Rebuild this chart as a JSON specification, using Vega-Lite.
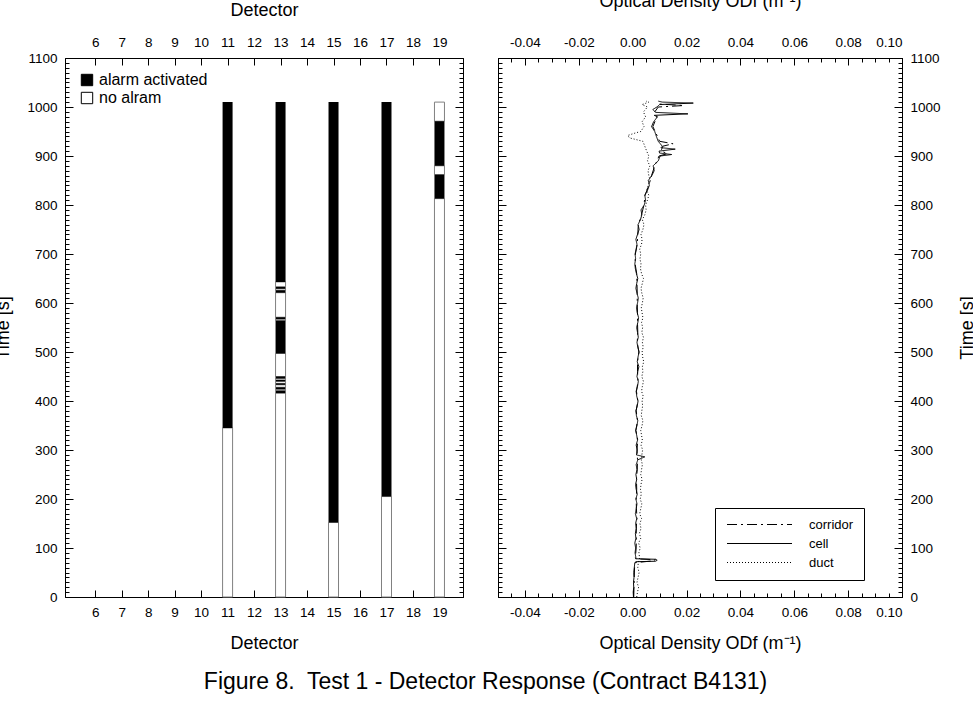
{
  "$schema": "https://vega.github.io/schema/vega-lite/v6.json",
  "background": "white",
  "padding": {"left": -6, "top": -8, "right": 0, "bottom": 0},
  "config": {
    "font": "Liberation Sans",
    "view": {"stroke": null},
    "axis": {"grid": false, "domainColor": "black", "tickColor": "black", "labelColor": "black", "titleColor": "black", "labelFont": "Liberation Sans", "titleFont": "Liberation Sans", "labelFontSize": 13.5, "titleFontSize": 18, "titleFontWeight": "normal", "domainWidth": 1, "tickWidth": 1, "labelOverlap": false},
    "legend": {"labelFont": "Liberation Sans", "labelColor": "black"},
    "concat": {"spacing": 33}
  },
  "title": {"text": "Figure 8.\u00a0 Test 1 - Detector Response (Contract B4131)", "orient": "bottom", "anchor": "middle", "fontSize": 23, "fontWeight": "normal", "font": "Liberation Sans", "color": "black", "offset": 18},
  "datasets": {
    "alarms": [
      {"detector": 11, "start": 0, "end": 345, "state": "no alram"},
      {"detector": 13, "start": 0, "end": 416, "state": "no alram"},
      {"detector": 13, "start": 421, "end": 424, "state": "no alram"},
      {"detector": 13, "start": 428, "end": 433, "state": "no alram"},
      {"detector": 13, "start": 436, "end": 440, "state": "no alram"},
      {"detector": 13, "start": 443, "end": 446, "state": "no alram"},
      {"detector": 13, "start": 450, "end": 497, "state": "no alram"},
      {"detector": 13, "start": 564, "end": 567, "state": "no alram"},
      {"detector": 13, "start": 571, "end": 621, "state": "no alram"},
      {"detector": 13, "start": 626, "end": 629, "state": "no alram"},
      {"detector": 13, "start": 633, "end": 643, "state": "no alram"},
      {"detector": 15, "start": 0, "end": 152, "state": "no alram"},
      {"detector": 17, "start": 0, "end": 205, "state": "no alram"},
      {"detector": 19, "start": 0, "end": 813, "state": "no alram"},
      {"detector": 19, "start": 862, "end": 880, "state": "no alram"},
      {"detector": 19, "start": 971, "end": 1010, "state": "no alram"},
      {"detector": 11, "start": 345, "end": 1010, "state": "alarm activated"},
      {"detector": 13, "start": 416, "end": 421, "state": "alarm activated"},
      {"detector": 13, "start": 424, "end": 428, "state": "alarm activated"},
      {"detector": 13, "start": 433, "end": 436, "state": "alarm activated"},
      {"detector": 13, "start": 440, "end": 443, "state": "alarm activated"},
      {"detector": 13, "start": 446, "end": 450, "state": "alarm activated"},
      {"detector": 13, "start": 497, "end": 564, "state": "alarm activated"},
      {"detector": 13, "start": 567, "end": 571, "state": "alarm activated"},
      {"detector": 13, "start": 621, "end": 626, "state": "alarm activated"},
      {"detector": 13, "start": 629, "end": 633, "state": "alarm activated"},
      {"detector": 13, "start": 643, "end": 1010, "state": "alarm activated"},
      {"detector": 15, "start": 152, "end": 1010, "state": "alarm activated"},
      {"detector": 17, "start": 205, "end": 1010, "state": "alarm activated"},
      {"detector": 19, "start": 813, "end": 862, "state": "alarm activated"},
      {"detector": 19, "start": 880, "end": 971, "state": "alarm activated"}
    ],
    "od": [
      {"series": "cell", "t": 0, "od": 0.0003}, {"series": "cell", "t": 10, "od": 0.0002}, {"series": "cell", "t": 20, "od": 0.0004}, {"series": "cell", "t": 30, "od": 0.0003}, {"series": "cell", "t": 40, "od": 0.0005}, {"series": "cell", "t": 50, "od": 0.0004}, {"series": "cell", "t": 60, "od": 0.0006}, {"series": "cell", "t": 70, "od": 0.0008}, {"series": "cell", "t": 72, "od": 0.0012}, {"series": "cell", "t": 73, "od": 0.0085}, {"series": "cell", "t": 75, "od": 0.0091}, {"series": "cell", "t": 77, "od": 0.0086}, {"series": "cell", "t": 78, "od": 0.0013}, {"series": "cell", "t": 80, "od": 0.0012}, {"series": "cell", "t": 90, "od": 0.0009}, {"series": "cell", "t": 100, "od": 0.0011}, {"series": "cell", "t": 110, "od": 0.0008}, {"series": "cell", "t": 120, "od": 0.0012}, {"series": "cell", "t": 130, "od": 0.0010}, {"series": "cell", "t": 140, "od": 0.0014}, {"series": "cell", "t": 150, "od": 0.0011}, {"series": "cell", "t": 160, "od": 0.0015}, {"series": "cell", "t": 170, "od": 0.0010}, {"series": "cell", "t": 180, "od": 0.0013}, {"series": "cell", "t": 190, "od": 0.0016}, {"series": "cell", "t": 200, "od": 0.0012}, {"series": "cell", "t": 210, "od": 0.0017}, {"series": "cell", "t": 220, "od": 0.0013}, {"series": "cell", "t": 230, "od": 0.0011}, {"series": "cell", "t": 240, "od": 0.0015}, {"series": "cell", "t": 250, "od": 0.0012}, {"series": "cell", "t": 260, "od": 0.0016}, {"series": "cell", "t": 270, "od": 0.0013}, {"series": "cell", "t": 280, "od": 0.0019}, {"series": "cell", "t": 286, "od": 0.0045}, {"series": "cell", "t": 290, "od": 0.0014}, {"series": "cell", "t": 300, "od": 0.0017}, {"series": "cell", "t": 310, "od": 0.0013}, {"series": "cell", "t": 320, "od": 0.0018}, {"series": "cell", "t": 330, "od": 0.0015}, {"series": "cell", "t": 340, "od": 0.0011}, {"series": "cell", "t": 350, "od": 0.0016}, {"series": "cell", "t": 360, "od": 0.0019}, {"series": "cell", "t": 370, "od": 0.0014}, {"series": "cell", "t": 380, "od": 0.0012}, {"series": "cell", "t": 390, "od": 0.0017}, {"series": "cell", "t": 400, "od": 0.0020}, {"series": "cell", "t": 410, "od": 0.0015}, {"series": "cell", "t": 420, "od": 0.0013}, {"series": "cell", "t": 430, "od": 0.0018}, {"series": "cell", "t": 440, "od": 0.0021}, {"series": "cell", "t": 450, "od": 0.0016}, {"series": "cell", "t": 460, "od": 0.0019}, {"series": "cell", "t": 470, "od": 0.0023}, {"series": "cell", "t": 480, "od": 0.0017}, {"series": "cell", "t": 490, "od": 0.0020}, {"series": "cell", "t": 500, "od": 0.0024}, {"series": "cell", "t": 510, "od": 0.0019}, {"series": "cell", "t": 520, "od": 0.0016}, {"series": "cell", "t": 530, "od": 0.0021}, {"series": "cell", "t": 540, "od": 0.0018}, {"series": "cell", "t": 550, "od": 0.0015}, {"series": "cell", "t": 560, "od": 0.0019}, {"series": "cell", "t": 570, "od": 0.0022}, {"series": "cell", "t": 580, "od": 0.0017}, {"series": "cell", "t": 590, "od": 0.0014}, {"series": "cell", "t": 600, "od": 0.0018}, {"series": "cell", "t": 610, "od": 0.0021}, {"series": "cell", "t": 620, "od": 0.0016}, {"series": "cell", "t": 630, "od": 0.0012}, {"series": "cell", "t": 640, "od": 0.0015}, {"series": "cell", "t": 650, "od": 0.0019}, {"series": "cell", "t": 660, "od": 0.0014}, {"series": "cell", "t": 670, "od": 0.0010}, {"series": "cell", "t": 680, "od": 0.0008}, {"series": "cell", "t": 690, "od": 0.0011}, {"series": "cell", "t": 700, "od": 0.0009}, {"series": "cell", "t": 710, "od": 0.0013}, {"series": "cell", "t": 720, "od": 0.0016}, {"series": "cell", "t": 730, "od": 0.0012}, {"series": "cell", "t": 740, "od": 0.0018}, {"series": "cell", "t": 750, "od": 0.0024}, {"series": "cell", "t": 760, "od": 0.0020}, {"series": "cell", "t": 770, "od": 0.0029}, {"series": "cell", "t": 780, "od": 0.0034}, {"series": "cell", "t": 790, "od": 0.0031}, {"series": "cell", "t": 800, "od": 0.0043}, {"series": "cell", "t": 810, "od": 0.0048}, {"series": "cell", "t": 820, "od": 0.0045}, {"series": "cell", "t": 830, "od": 0.0055}, {"series": "cell", "t": 840, "od": 0.0062}, {"series": "cell", "t": 850, "od": 0.0058}, {"series": "cell", "t": 860, "od": 0.0071}, {"series": "cell", "t": 870, "od": 0.0080}, {"series": "cell", "t": 880, "od": 0.0076}, {"series": "cell", "t": 890, "od": 0.0095}, {"series": "cell", "t": 900, "od": 0.0102}, {"series": "cell", "t": 903, "od": 0.0145}, {"series": "cell", "t": 906, "od": 0.0100}, {"series": "cell", "t": 910, "od": 0.0098}, {"series": "cell", "t": 914, "od": 0.0158}, {"series": "cell", "t": 917, "od": 0.0105}, {"series": "cell", "t": 920, "od": 0.0110}, {"series": "cell", "t": 930, "od": 0.0095}, {"series": "cell", "t": 940, "od": 0.0088}, {"series": "cell", "t": 950, "od": 0.0082}, {"series": "cell", "t": 960, "od": 0.0070}, {"series": "cell", "t": 970, "od": 0.0078}, {"series": "cell", "t": 980, "od": 0.0092}, {"series": "cell", "t": 983, "od": 0.0080}, {"series": "cell", "t": 986, "od": 0.0205}, {"series": "cell", "t": 989, "od": 0.0085}, {"series": "cell", "t": 995, "od": 0.0075}, {"series": "cell", "t": 1000, "od": 0.0090}, {"series": "cell", "t": 1005, "od": 0.0100}, {"series": "cell", "t": 1008, "od": 0.0225}, {"series": "cell", "t": 1010, "od": 0.0110}, {"series": "cell", "t": 1012, "od": 0.0095},
      {"series": "duct", "t": 0, "od": 0.0015}, {"series": "duct", "t": 10, "od": 0.0018}, {"series": "duct", "t": 20, "od": 0.0022}, {"series": "duct", "t": 30, "od": 0.0016}, {"series": "duct", "t": 40, "od": 0.0020}, {"series": "duct", "t": 50, "od": 0.0024}, {"series": "duct", "t": 60, "od": 0.0019}, {"series": "duct", "t": 70, "od": 0.0021}, {"series": "duct", "t": 80, "od": 0.0026}, {"series": "duct", "t": 90, "od": 0.0023}, {"series": "duct", "t": 100, "od": 0.0028}, {"series": "duct", "t": 110, "od": 0.0022}, {"series": "duct", "t": 120, "od": 0.0030}, {"series": "duct", "t": 130, "od": 0.0025}, {"series": "duct", "t": 140, "od": 0.0031}, {"series": "duct", "t": 150, "od": 0.0027}, {"series": "duct", "t": 160, "od": 0.0033}, {"series": "duct", "t": 170, "od": 0.0026}, {"series": "duct", "t": 180, "od": 0.0030}, {"series": "duct", "t": 190, "od": 0.0034}, {"series": "duct", "t": 200, "od": 0.0028}, {"series": "duct", "t": 210, "od": 0.0032}, {"series": "duct", "t": 220, "od": 0.0029}, {"series": "duct", "t": 230, "od": 0.0031}, {"series": "duct", "t": 240, "od": 0.0035}, {"series": "duct", "t": 250, "od": 0.0030}, {"series": "duct", "t": 260, "od": 0.0033}, {"series": "duct", "t": 270, "od": 0.0036}, {"series": "duct", "t": 280, "od": 0.0032}, {"series": "duct", "t": 290, "od": 0.0034}, {"series": "duct", "t": 300, "od": 0.0037}, {"series": "duct", "t": 310, "od": 0.0031}, {"series": "duct", "t": 320, "od": 0.0036}, {"series": "duct", "t": 330, "od": 0.0033}, {"series": "duct", "t": 340, "od": 0.0030}, {"series": "duct", "t": 350, "od": 0.0035}, {"series": "duct", "t": 360, "od": 0.0038}, {"series": "duct", "t": 370, "od": 0.0032}, {"series": "duct", "t": 380, "od": 0.0034}, {"series": "duct", "t": 390, "od": 0.0037}, {"series": "duct", "t": 400, "od": 0.0035}, {"series": "duct", "t": 410, "od": 0.0039}, {"series": "duct", "t": 420, "od": 0.0033}, {"series": "duct", "t": 430, "od": 0.0036}, {"series": "duct", "t": 440, "od": 0.0040}, {"series": "duct", "t": 450, "od": 0.0034}, {"series": "duct", "t": 460, "od": 0.0038}, {"series": "duct", "t": 470, "od": 0.0036}, {"series": "duct", "t": 480, "od": 0.0041}, {"series": "duct", "t": 490, "od": 0.0037}, {"series": "duct", "t": 500, "od": 0.0035}, {"series": "duct", "t": 510, "od": 0.0039}, {"series": "duct", "t": 520, "od": 0.0036}, {"series": "duct", "t": 530, "od": 0.0040}, {"series": "duct", "t": 540, "od": 0.0034}, {"series": "duct", "t": 550, "od": 0.0037}, {"series": "duct", "t": 560, "od": 0.0033}, {"series": "duct", "t": 570, "od": 0.0038}, {"series": "duct", "t": 580, "od": 0.0035}, {"series": "duct", "t": 590, "od": 0.0032}, {"series": "duct", "t": 600, "od": 0.0036}, {"series": "duct", "t": 610, "od": 0.0039}, {"series": "duct", "t": 620, "od": 0.0034}, {"series": "duct", "t": 630, "od": 0.0031}, {"series": "duct", "t": 640, "od": 0.0036}, {"series": "duct", "t": 650, "od": 0.0040}, {"series": "duct", "t": 660, "od": 0.0033}, {"series": "duct", "t": 670, "od": 0.0029}, {"series": "duct", "t": 680, "od": 0.0031}, {"series": "duct", "t": 690, "od": 0.0027}, {"series": "duct", "t": 700, "od": 0.0030}, {"series": "duct", "t": 710, "od": 0.0026}, {"series": "duct", "t": 720, "od": 0.0033}, {"series": "duct", "t": 730, "od": 0.0035}, {"series": "duct", "t": 740, "od": 0.0031}, {"series": "duct", "t": 750, "od": 0.0038}, {"series": "duct", "t": 760, "od": 0.0042}, {"series": "duct", "t": 770, "od": 0.0036}, {"series": "duct", "t": 780, "od": 0.0045}, {"series": "duct", "t": 790, "od": 0.0050}, {"series": "duct", "t": 800, "od": 0.0048}, {"series": "duct", "t": 810, "od": 0.0055}, {"series": "duct", "t": 820, "od": 0.0060}, {"series": "duct", "t": 830, "od": 0.0052}, {"series": "duct", "t": 840, "od": 0.0058}, {"series": "duct", "t": 850, "od": 0.0065}, {"series": "duct", "t": 860, "od": 0.0060}, {"series": "duct", "t": 870, "od": 0.0057}, {"series": "duct", "t": 880, "od": 0.0064}, {"series": "duct", "t": 890, "od": 0.0055}, {"series": "duct", "t": 900, "od": 0.0060}, {"series": "duct", "t": 910, "od": 0.0052}, {"series": "duct", "t": 920, "od": 0.0045}, {"series": "duct", "t": 930, "od": 0.0038}, {"series": "duct", "t": 937, "od": -0.0012}, {"series": "duct", "t": 942, "od": -0.0018}, {"series": "duct", "t": 947, "od": 0.0010}, {"series": "duct", "t": 950, "od": 0.0030}, {"series": "duct", "t": 960, "od": 0.0042}, {"series": "duct", "t": 970, "od": 0.0035}, {"series": "duct", "t": 980, "od": 0.0048}, {"series": "duct", "t": 990, "od": 0.0040}, {"series": "duct", "t": 1000, "od": 0.0055}, {"series": "duct", "t": 1005, "od": 0.0035}, {"series": "duct", "t": 1010, "od": 0.0060}, {"series": "duct", "t": 1012, "od": 0.0050},
      {"series": "corridor", "t": 0, "od": 0.0004}, {"series": "corridor", "t": 20, "od": 0.0005}, {"series": "corridor", "t": 40, "od": 0.0006}, {"series": "corridor", "t": 60, "od": 0.0007}, {"series": "corridor", "t": 70, "od": 0.0009}, {"series": "corridor", "t": 74, "od": 0.0080}, {"series": "corridor", "t": 76, "od": 0.0084}, {"series": "corridor", "t": 78, "od": 0.0011}, {"series": "corridor", "t": 80, "od": 0.0010}, {"series": "corridor", "t": 100, "od": 0.0013}, {"series": "corridor", "t": 120, "od": 0.0014}, {"series": "corridor", "t": 140, "od": 0.0013}, {"series": "corridor", "t": 160, "od": 0.0016}, {"series": "corridor", "t": 180, "od": 0.0014}, {"series": "corridor", "t": 200, "od": 0.0013}, {"series": "corridor", "t": 220, "od": 0.0015}, {"series": "corridor", "t": 240, "od": 0.0014}, {"series": "corridor", "t": 260, "od": 0.0017}, {"series": "corridor", "t": 280, "od": 0.0018}, {"series": "corridor", "t": 300, "od": 0.0016}, {"series": "corridor", "t": 320, "od": 0.0019}, {"series": "corridor", "t": 340, "od": 0.0012}, {"series": "corridor", "t": 360, "od": 0.0018}, {"series": "corridor", "t": 380, "od": 0.0013}, {"series": "corridor", "t": 400, "od": 0.0019}, {"series": "corridor", "t": 420, "od": 0.0014}, {"series": "corridor", "t": 440, "od": 0.0020}, {"series": "corridor", "t": 460, "od": 0.0018}, {"series": "corridor", "t": 480, "od": 0.0018}, {"series": "corridor", "t": 500, "od": 0.0023}, {"series": "corridor", "t": 520, "od": 0.0017}, {"series": "corridor", "t": 540, "od": 0.0019}, {"series": "corridor", "t": 560, "od": 0.0018}, {"series": "corridor", "t": 580, "od": 0.0018}, {"series": "corridor", "t": 600, "od": 0.0017}, {"series": "corridor", "t": 620, "od": 0.0017}, {"series": "corridor", "t": 640, "od": 0.0016}, {"series": "corridor", "t": 660, "od": 0.0015}, {"series": "corridor", "t": 680, "od": 0.0009}, {"series": "corridor", "t": 700, "od": 0.0010}, {"series": "corridor", "t": 720, "od": 0.0017}, {"series": "corridor", "t": 740, "od": 0.0019}, {"series": "corridor", "t": 760, "od": 0.0021}, {"series": "corridor", "t": 780, "od": 0.0033}, {"series": "corridor", "t": 800, "od": 0.0042}, {"series": "corridor", "t": 820, "od": 0.0046}, {"series": "corridor", "t": 840, "od": 0.0060}, {"series": "corridor", "t": 860, "od": 0.0070}, {"series": "corridor", "t": 880, "od": 0.0082}, {"series": "corridor", "t": 900, "od": 0.0098}, {"series": "corridor", "t": 905, "od": 0.0130}, {"series": "corridor", "t": 910, "od": 0.0105}, {"series": "corridor", "t": 920, "od": 0.0112}, {"series": "corridor", "t": 925, "od": 0.0150}, {"series": "corridor", "t": 930, "od": 0.0100}, {"series": "corridor", "t": 940, "od": 0.0092}, {"series": "corridor", "t": 960, "od": 0.0075}, {"series": "corridor", "t": 980, "od": 0.0090}, {"series": "corridor", "t": 990, "od": 0.0082}, {"series": "corridor", "t": 1000, "od": 0.0095}, {"series": "corridor", "t": 1003, "od": 0.0190}, {"series": "corridor", "t": 1006, "od": 0.0100}, {"series": "corridor", "t": 1012, "od": 0.0100}
    ]
  },
  "hconcat": [
    {
      "width": 398,
      "height": 539,
      "data": {"name": "alarms"},
      "layer": [
        {
          "mark": {"type": "bar", "width": 10},
          "encoding": {
            "x": {"field": "detector", "type": "quantitative", "scale": {"domain": [5.05, 19.7], "nice": false, "zero": false},
                  "axis": {"orient": "bottom", "values": [6, 7, 8, 9, 10, 11, 12, 13, 14, 15, 16, 17, 18, 19], "format": "d", "tickSize": -7, "labelPadding": 15, "title": "Detector", "titlePadding": 16}},
            "y": {"field": "start", "type": "quantitative", "scale": {"domain": [0, 1100], "nice": false, "zero": false},
                  "axis": {"orient": "left", "values": [0, 100, 200, 300, 400, 500, 600, 700, 800, 900, 1000, 1100], "format": "d", "tickSize": -8, "labelPadding": 16, "title": "Time [s]", "titlePadding": 14}},
            "y2": {"field": "end"},
            "fill": {"field": "state", "type": "nominal", "scale": {"domain": ["alarm activated", "no alram"], "range": ["black", "white"]},
                     "legend": {"title": null, "orient": "top-left", "offset": 14, "padding": 0, "symbolType": "square", "symbolSize": 130, "symbolStrokeColor": "black", "symbolStrokeWidth": 1, "labelFontSize": 16, "labelOffset": 4, "rowPadding": 2}},
            "stroke": {"condition": {"test": "datum.state === 'no alram'", "value": "#808080"}, "value": "black"},
            "strokeWidth": {"condition": {"test": "datum.state === 'no alram'", "value": 1}, "value": 0}
          }
        },
        {
          "mark": {"type": "point", "opacity": 0},
          "encoding": {
            "x": {"field": "detector", "type": "quantitative", "scale": {"domain": [5.05, 19.7], "nice": false, "zero": false},
                  "axis": {"orient": "top", "values": [6, 7, 8, 9, 10, 11, 12, 13, 14, 15, 16, 17, 18, 19], "format": "d", "tickSize": -7, "labelPadding": 16, "title": "Detector", "titlePadding": 16}},
            "y": {"field": "start", "type": "quantitative", "scale": {"domain": [0, 1100], "nice": false, "zero": false},
                  "axis": {"orient": "right", "values": [0, 100, 200, 300, 400, 500, 600, 700, 800, 900, 1000, 1100], "tickSize": -8, "labels": false, "title": null}}
          }
        },
        {
          "mark": {"type": "point", "opacity": 0},
          "encoding": {
            "x": {"field": "detector", "type": "quantitative", "scale": {"domain": [5.05, 19.7], "nice": false, "zero": false}, "axis": null},
            "y": {"field": "start", "type": "quantitative", "scale": {"domain": [0, 1100], "nice": false, "zero": false},
                  "axis": {"orient": "left", "tickCount": 110, "tickSize": -4, "labels": false, "domain": false, "title": null}}
          }
        },
        {
          "mark": {"type": "point", "opacity": 0},
          "encoding": {
            "x": {"field": "detector", "type": "quantitative", "scale": {"domain": [5.05, 19.7], "nice": false, "zero": false}, "axis": null},
            "y": {"field": "start", "type": "quantitative", "scale": {"domain": [0, 1100], "nice": false, "zero": false},
                  "axis": {"orient": "right", "tickCount": 110, "tickSize": -4, "labels": false, "domain": false, "title": null}}
          }
        }
      ],
      "resolve": {"axis": {"x": "independent", "y": "independent"}}
    },
    {
      "width": 404,
      "height": 539,
      "data": {"name": "od"},
      "layer": [
        {
          "mark": {"type": "line", "color": "black", "strokeWidth": 1},
          "encoding": {
            "x": {"field": "od", "type": "quantitative", "scale": {"domain": [-0.05, 0.1], "nice": false, "zero": false},
                  "axis": {"orient": "bottom", "values": [-0.04, -0.02, 0, 0.02, 0.04, 0.06, 0.08, 0.1], "labelExpr": "replace(format(datum.value, '.2f'), '−', '-')", "tickSize": -7, "labelPadding": 15, "title": "Optical Density ODf (m⁻¹)", "titlePadding": 16}},
            "y": {"field": "t", "type": "quantitative", "scale": {"domain": [0, 1100], "nice": false, "zero": false},
                  "axis": {"orient": "left", "values": [0, 100, 200, 300, 400, 500, 600, 700, 800, 900, 1000, 1100], "tickSize": -8, "labels": false, "title": null}},
            "order": {"field": "t", "type": "quantitative"},
            "strokeDash": {"field": "series", "type": "nominal", "scale": {"domain": ["corridor", "cell", "duct"], "range": [[10, 4, 2, 4], [1, 0], [1, 2]]},
                           "legend": {"title": null, "orient": "none", "legendX": 650, "legendY": 450, "strokeColor": "black", "padding": 10, "symbolType": "M-6.5,0L6.5,0", "symbolSize": 100, "symbolOffset": 28, "symbolStrokeColor": "black", "symbolStrokeWidth": 1, "labelFontSize": 13, "labelOffset": 43, "rowPadding": 5}}
          }
        },
        {
          "mark": {"type": "point", "opacity": 0},
          "encoding": {
            "x": {"field": "od", "type": "quantitative", "scale": {"domain": [-0.05, 0.1], "nice": false, "zero": false},
                  "axis": {"orient": "top", "values": [-0.04, -0.02, 0, 0.02, 0.04, 0.06, 0.08, 0.1], "labelExpr": "replace(format(datum.value, '.2f'), '−', '-')", "tickSize": -7, "labelPadding": 16, "title": "Optical Density ODf (m⁻¹)", "titlePadding": 25}},
            "y": {"field": "t", "type": "quantitative", "scale": {"domain": [0, 1100], "nice": false, "zero": false},
                  "axis": {"orient": "right", "values": [0, 100, 200, 300, 400, 500, 600, 700, 800, 900, 1000, 1100], "format": "d", "tickSize": -8, "labelPadding": 16, "title": "Time [s]", "titleAngle": 270, "titlePadding": 36}}
          }
        },
        {
          "mark": {"type": "point", "opacity": 0},
          "encoding": {
            "x": {"field": "od", "type": "quantitative", "scale": {"domain": [-0.05, 0.1], "nice": false, "zero": false},
                  "axis": {"orient": "bottom", "tickCount": 30, "tickSize": -4, "labels": false, "domain": false, "title": null}},
            "y": {"field": "t", "type": "quantitative", "scale": {"domain": [0, 1100], "nice": false, "zero": false},
                  "axis": {"orient": "left", "tickCount": 110, "tickSize": -4, "labels": false, "domain": false, "title": null}}
          }
        },
        {
          "mark": {"type": "point", "opacity": 0},
          "encoding": {
            "x": {"field": "od", "type": "quantitative", "scale": {"domain": [-0.05, 0.1], "nice": false, "zero": false},
                  "axis": {"orient": "top", "tickCount": 30, "tickSize": -4, "labels": false, "domain": false, "title": null}},
            "y": {"field": "t", "type": "quantitative", "scale": {"domain": [0, 1100], "nice": false, "zero": false},
                  "axis": {"orient": "right", "tickCount": 110, "tickSize": -4, "labels": false, "domain": false, "title": null}}
          }
        }
      ],
      "resolve": {"axis": {"x": "independent", "y": "independent"}}
    }
  ]
}
